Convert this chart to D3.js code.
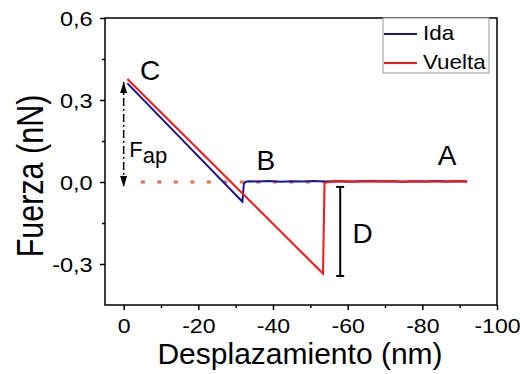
<!DOCTYPE html>
<html>
<head>
<meta charset="utf-8">
<script src="https://cdn.jsdelivr.net/npm/d3@7"></script>
<style>
body { margin: 0; background: #fff; }
svg text { font-family: "Liberation Sans", Arial, sans-serif; fill: #000; }
</style>
</head>
<body>
<svg id="chart" width="520" height="374"></svg>
<script>
// tick values
const xTicks = [0, -20, -40, -60, -80, -100];
const xMinor = [-10, -30, -50, -70, -90];
const yTicks = [0.6, 0.3, 0.0, -0.3];
const yMinor = [0.45, 0.15, -0.15];

// Ida (approach) curve
const idaX = [-1.0, -31.8, -32.2, -32.6, -33.4, -36, -39, -42, -45, -48, -51, -54, -57, -60, -63, -66, -69, -72, -75, -78, -81, -84, -87, -90, -92];
const idaY = [0.361, -0.072, -0.006, 0.000, 0.003, 0.002, 0.004, 0.001, 0.003, 0.002, 0.004, 0.002, 0.003, 0.001, 0.003, 0.004, 0.002, 0.003, 0.001, 0.003, 0.002, 0.004, 0.002, 0.003, 0.002];

// Vuelta (retract) curve
const vueltaX = [-1.0, -53.4, -53.8, -56, -59, -62, -65, -68, -71, -74, -77, -80, -83, -86, -89, -92];
const vueltaY = [0.377, -0.335, -0.003, 0.002, 0.004, 0.001, 0.003, 0.002, 0.004, 0.001, 0.003, 0.002, 0.003, 0.001, 0.004, 0.002];

// dotted zero line, F_ap arrow, D bar
const baseX = [-4.6, -53.5];
const baseY = [0, 0];
const fapX = [0, 0];
const fapY = [0.366, -0.018];
const dX = [-58, -58];
const dY = [-0.018, -0.344];

// letters on the curve
const letters = ["C", "B", "A", "D"];
const letterX = [-7.1, -38.1, -86.6, -64.0];
const letterY = [0.373, 0.044, 0.062, -0.223];

const svg = d3.select("#chart");

const x = d3.scaleLinear().domain([5, -100]).range([105, 497]);
const y = d3.scaleLinear().domain([-0.45, 0.6]).range([305, 18]);

const line = d3.line().x(d => x(d[0])).y(d => y(d[1]));

// marker for arrow heads
svg.append("defs").append("marker")
    .attr("id", "head")
    .attr("markerUnits", "userSpaceOnUse")
    .attr("markerWidth", 11).attr("markerHeight", 7)
    .attr("refX", 11).attr("refY", 3.5)
    .attr("orient", "auto-start-reverse")
    .append("path")
    .attr("d", "M0,0 L11,3.5 L0,7 z")
    .attr("fill", "#000");

// axes
const xAxis = svg.append("g")
    .attr("transform", `translate(0,${y(-0.45)})`)
    .call(d3.axisBottom(x).tickValues(xTicks).tickSize(5).tickFormat(d => String(d)));
const xMin = svg.append("g")
    .attr("transform", `translate(0,${y(-0.45)})`)
    .call(d3.axisBottom(x).tickValues(xMinor).tickSize(3).tickFormat(""));
const yAxis = svg.append("g")
    .attr("transform", `translate(${x(5)},0)`)
    .call(d3.axisLeft(y).tickValues(yTicks).tickSize(5).tickFormat(d => d.toFixed(1).replace(".", ",")));
const yMin = svg.append("g")
    .attr("transform", `translate(${x(5)},0)`)
    .call(d3.axisLeft(y).tickValues(yMinor).tickSize(3).tickFormat(""));

[xAxis, xMin, yAxis, yMin].forEach(g => {
    g.select(".domain").remove();
    g.selectAll("line").attr("stroke", "#000").attr("stroke-width", 1.5);
});

xAxis.selectAll("text")
    .attr("y", 28).attr("dy", 0)
    .attr("font-size", 21)
    .attr("transform", "scale(1.1,1)");
yAxis.selectAll("text")
    .attr("x", -11).attr("dy", "0.34em")
    .attr("font-size", 21)
    .attr("transform", "scale(1.12,1)");

// frame
svg.append("rect")
    .attr("x", x(5)).attr("y", y(0.6))
    .attr("width", x(-100) - x(5)).attr("height", y(-0.45) - y(0.6))
    .attr("fill", "none").attr("stroke", "#000").attr("stroke-width", 1.5);

// dotted zero line
svg.append("path")
    .attr("d", line(d3.zip(baseX, baseY)))
    .attr("fill", "none")
    .attr("stroke", "#f2674e")
    .attr("stroke-width", 3)
    .attr("stroke-dasharray", "4,12.5");

// curves
svg.append("path")
    .attr("d", line(d3.zip(idaX, idaY)))
    .attr("fill", "none").attr("stroke", "#161696").attr("stroke-width", 2);
svg.append("path")
    .attr("d", line(d3.zip(vueltaX, vueltaY)))
    .attr("fill", "none").attr("stroke", "#ff1414").attr("stroke-width", 2);

// F_ap arrow
svg.append("path")
    .attr("d", line(d3.zip(fapX, fapY)))
    .attr("fill", "none").attr("stroke", "#000").attr("stroke-width", 1.5)
    .attr("stroke-dasharray", "8,3,2,3")
    .attr("marker-start", "url(#head)")
    .attr("marker-end", "url(#head)");

const fap = svg.append("text")
    .attr("x", x(-1.5)).attr("y", y(0.091))
    .attr("font-size", 22);
fap.append("tspan").text("F");
fap.append("tspan").attr("dy", 6).text("ap");

// D bar
svg.append("path")
    .attr("d", line(d3.zip(dX, dY)))
    .attr("stroke", "#000").attr("stroke-width", 2);
dY.forEach(v => {
    svg.append("line")
        .attr("x1", x(dX[0]) - 4).attr("x2", x(dX[0]) + 4)
        .attr("y1", y(v)).attr("y2", y(v))
        .attr("stroke", "#000").attr("stroke-width", 2);
});

// letters
svg.selectAll(".letter")
    .data(letters)
    .join("text")
    .attr("class", "letter")
    .attr("x", (d, i) => x(letterX[i]))
    .attr("y", (d, i) => y(letterY[i]))
    .attr("text-anchor", "middle")
    .attr("font-size", 28)
    .text(d => d);

// axis titles
svg.append("text")
    .attr("transform", "translate(300,364)")
    .attr("text-anchor", "middle")
    .attr("font-size", 30)
    .text("Desplazamiento (nm)");
svg.append("text")
    .attr("transform", "translate(43,176) rotate(-90) scale(1,1.2)")
    .attr("text-anchor", "middle")
    .attr("font-size", 30.5)
    .text("Fuerza (nN)");

// legend
const legend = svg.append("g");
legend.append("rect")
    .attr("x", 383).attr("y", 18).attr("width", 106).attr("height", 55)
    .attr("fill", "#fff").attr("stroke", "#999").attr("stroke-width", 1);
const legendItems = [["Ida", "#161696"], ["Vuelta", "#ff1414"]];
legendItems.forEach((it, i) => {
    const ly = 34 + i * 29;
    legend.append("line")
        .attr("x1", 384).attr("x2", 417).attr("y1", ly).attr("y2", ly)
        .attr("stroke", it[1]).attr("stroke-width", 2);
    legend.append("text")
        .attr("transform", `translate(423,${ly + 6}) scale(1.12,1)`)
        .attr("font-size", 20)
        .text(it[0]);
});
</script>
</body>
</html>
